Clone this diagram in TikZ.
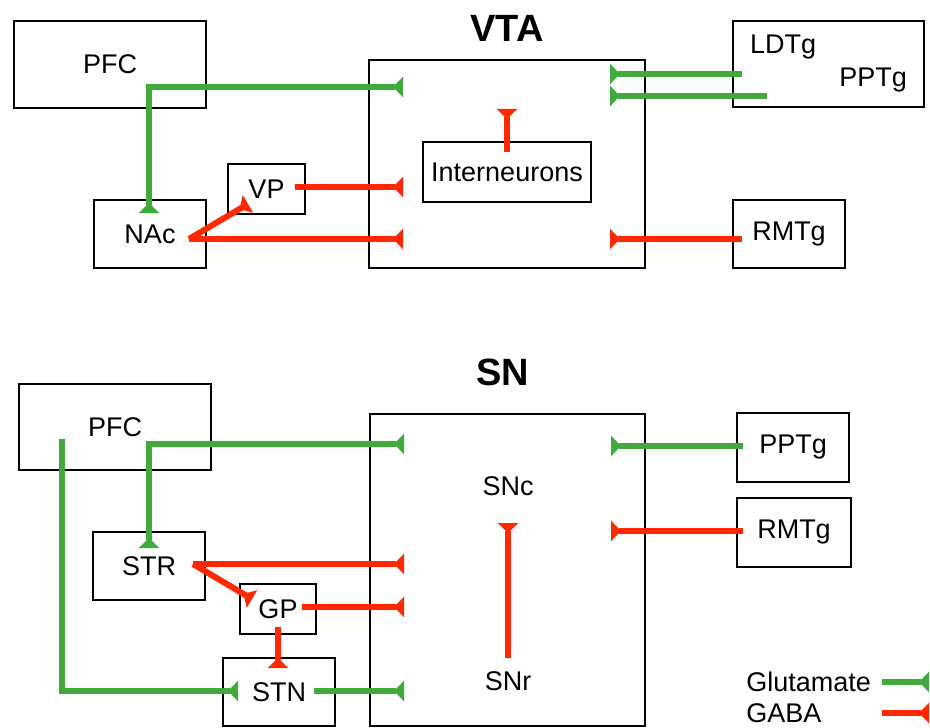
\documentclass[tikz,border=0pt]{standalone}
\usepackage{fontspec}
\setmainfont{Liberation Sans}
\usetikzlibrary{arrows.meta}
\definecolor{glu}{RGB}{64,170,60}
\definecolor{gaba}{RGB}{255,40,0}
\begin{document}
\begin{tikzpicture}[x=0.5pt,y=-0.5pt,font=\fontsize{13.5}{16}\selectfont,
  syn/.tip={Triangle[reversed,length=5pt,width=10pt]},
  box/.style={draw,line width=1.3pt,inner sep=0pt},
  exc/.style={draw=glu,line width=3pt,-syn},
  inh/.style={draw=gaba,line width=3pt,-syn},
  title/.style={font=\fontsize{19}{22}\selectfont\bfseries}]
  \useasboundingbox (0,0) rectangle (930,727);
  % 上部：VTA
  \node[title] (VTA) at (507,28) {VTA};
  \node[box,minimum width=96pt,minimum height=43.5pt] (PFCa) at (110,64.5) {PFC};
  \node[box,minimum width=56pt,minimum height=34pt] (NAc) at (150,234) {NAc};
  \node[box,minimum width=38.5pt,minimum height=25pt] (VP) at (266.5,189) {VP};
  \node[box,minimum width=138pt,minimum height=104pt] (VTAbox) at (507,164) {};
  \node[box,minimum width=84pt,minimum height=30pt] (Int) at (507,172) {Interneurons};
  \node[box,minimum width=95.5pt,minimum height=43pt] (LP) at (828.5,64) {};
  \node (LDTg) at (783,47) {LDTg};
  \node (PPTga) at (873,80) {PPTg};
  \node[box,minimum width=56pt,minimum height=34pt] (RMTga) at (789,234) {RMTg};
  % 上部连线端点
  \coordinate (pfcCorner) at (149,87);
  \coordinate (vtaIn1) at (403,87);
  \coordinate (nacIn) at (149,213);
  \coordinate (vpOut) at (295,187);
  \coordinate (vtaIn2) at (403,187);
  \coordinate (nacOut) at (189,239);
  \coordinate (vtaIn3) at (403,239);
  \coordinate (vpIn) at (248,204);
  \coordinate (intOut) at (507,152);
  \coordinate (vtaIn4) at (507,109);
  \coordinate (ldtgOut) at (742,74);
  \coordinate (vtaIn5) at (610,74);
  \coordinate (pptgOut) at (767,96);
  \coordinate (vtaIn6) at (610,96);
  \coordinate (rmtgOut) at (742,239);
  \coordinate (vtaIn7) at (610,239);
  % 谷氨酸（绿）
  \draw[exc,syn-syn] (nacIn) -- (pfcCorner) -- (vtaIn1);
  \draw[exc] (ldtgOut) -- (vtaIn5);
  \draw[exc] (pptgOut) -- (vtaIn6);
  % GABA（红）
  \draw[inh] (vpOut) -- (vtaIn2);
  \draw[inh] (nacOut) -- (vtaIn3);
  \draw[inh] (nacOut) -- (vpIn);
  \draw[inh] (intOut) -- (vtaIn4);
  \draw[inh] (rmtgOut) -- (vtaIn7);
  % 下部：SN
  \node[title] (SN) at (503,372) {SN};
  \node[box,minimum width=96pt,minimum height=43pt] (PFCb) at (115,427) {PFC};
  \node[box,minimum width=137.5pt,minimum height=156pt] (SNbox) at (507.5,570) {};
  \node (SNc) at (508,486) {SNc};
  \node (SNr) at (508,681) {SNr};
  \node[box,minimum width=56pt,minimum height=34pt] (STR) at (149,566) {STR};
  \node[box,minimum width=38pt,minimum height=25pt] (GP) at (278,609) {GP};
  \node[box,minimum width=56pt,minimum height=34pt] (STN) at (279,692) {STN};
  \node[box,minimum width=56pt,minimum height=34.5pt] (PPTgb) at (793,447.5) {PPTg};
  \node[box,minimum width=57pt,minimum height=34.5pt] (RMTgb) at (794,532.5) {RMTg};
  % 下部连线端点
  \coordinate (pfcCorner2) at (149,444);
  \coordinate (snIn1) at (404,444);
  \coordinate (strIn) at (149,548);
  \coordinate (pfcOut2) at (62,439);
  \coordinate (pfcCorner3) at (62,691);
  \coordinate (stnIn) at (238,691);
  \coordinate (strOut) at (193,564);
  \coordinate (snIn2) at (404,564);
  \coordinate (gpIn) at (252,599);
  \coordinate (gpOut) at (302,607);
  \coordinate (snIn3) at (404,607);
  \coordinate (gpOut2) at (278,627);
  \coordinate (stnIn2) at (278,668);
  \coordinate (stnOut) at (314,691);
  \coordinate (snIn4) at (404,691);
  \coordinate (pptgOut2) at (743,446);
  \coordinate (snIn5) at (611,446);
  \coordinate (rmtgOut2) at (743,531);
  \coordinate (snIn6) at (611,531);
  \coordinate (snrOut) at (508,658);
  \coordinate (sncIn) at (508,523);
  % 谷氨酸（绿）
  \draw[exc,syn-syn] (strIn) -- (pfcCorner2) -- (snIn1);
  \draw[exc] (pfcOut2) -- (pfcCorner3) -- (stnIn);
  \draw[exc] (stnOut) -- (snIn4);
  \draw[exc] (pptgOut2) -- (snIn5);
  % GABA（红）
  \draw[inh] (strOut) -- (snIn2);
  \draw[inh] (strOut) -- (gpIn);
  \draw[inh] (gpOut) -- (snIn3);
  \draw[inh] (gpOut2) -- (stnIn2);
  \draw[inh] (rmtgOut2) -- (snIn6);
  \draw[inh] (snrOut) -- (sncIn);
  % 图例
  \node[anchor=west,inner sep=0pt] (legGlu) at (746,682) {Glutamate};
  \node[anchor=west,inner sep=0pt] (legGaba) at (746,713) {GABA};
  \coordinate (gluA) at (882,682);
  \coordinate (gluB) at (929,682);
  \coordinate (gabaA) at (882,713);
  \coordinate (gabaB) at (929,713);
  \draw[exc] (gluA) -- (gluB);
  \draw[inh] (gabaA) -- (gabaB);
\end{tikzpicture}
\end{document}
